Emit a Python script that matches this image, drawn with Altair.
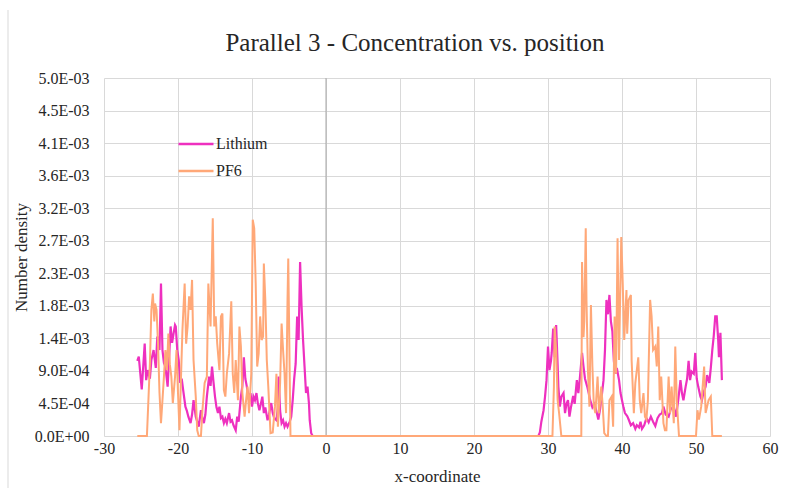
import altair as alt
import pandas as pd

# ---- data (number density in units of 1e-4) ----
lithium_x = [
    -25.5, -25.3, -25.1, -24.9, -24.7, -24.5, -24.3, -24.1, -23.8, -23.6, -23.3, -23.0, -22.8, -22.5,
    -22.3, -22.1, -21.9, -21.7, -21.4, -21.2, -21.0, -20.8, -20.6, -20.4, -20.3, -20.1, -19.9, -19.7,
    -19.5, -19.3, -19.0, -18.8, -18.6, -18.3, -18.1, -17.9, -17.6, -17.4, -17.2, -16.9, -16.7, -16.5,
    -16.3, -16.1, -15.8, -15.6, -15.4, -15.2, -15.0, -14.8, -14.6, -14.4, -14.2, -14.0, -13.8, -13.6,
    -13.4, -13.1, -12.9, -12.7, -12.5, -12.2, -12.0, -11.8, -11.5, -11.3, -11.1, -10.9, -10.7, -10.4,
    -10.2, -10.0, -9.8, -9.6, -9.4, -9.2, -9.0, -8.8, -8.6, -8.4, -8.2, -7.9, -7.7, -7.4, -7.2, -7.0,
    -6.7, -6.5, -6.4, -6.2, -6.0, -5.8, -5.6, -5.4, -5.2, -4.9, -4.7, -4.5, -4.3, -4.1, -3.9, -3.7,
    -3.5, -3.3, -3.1, -2.9, -2.7, -2.5, -2.3, -2.2, -2.0, -1.8,
    28.7, 28.9, 29.1, 29.4, 29.6, 29.8, 30.0, 30.2, 30.4, 30.5, 30.7, 30.9, 31.1, 31.3, 31.4, 31.6,
    31.8, 32.1, 32.3, 32.5, 32.7, 32.9, 33.1, 33.4, 33.6, 33.9, 34.1, 34.3, 34.6, 34.8, 35.0, 35.3,
    35.5, 35.7, 36.0, 36.3, 36.6, 36.8, 37.0, 37.2, 37.5, 37.7, 37.9, 38.1, 38.3, 38.5, 38.7, 38.9,
    39.1, 39.3, 39.6, 39.8, 40.0, 40.2, 40.4, 40.7, 40.9, 41.2, 41.5, 41.8, 42.0, 42.3, 42.5, 42.7,
    43.0, 43.3, 43.6, 43.9, 44.2, 44.5, 44.8, 45.1, 45.4, 45.6, 45.9, 46.3, 46.6, 47.0, 47.3, 47.6,
    47.9, 48.1, 48.3, 48.6, 48.8, 49.0, 49.2, 49.4, 49.7, 49.9, 50.1, 50.3, 50.6, 50.8, 51.0, 51.3,
    51.5, 51.8, 52.0, 52.2, 52.4, 52.6, 52.8, 53.0, 53.1, 53.3, 53.5,
]
lithium_y = [
    10.5, 11.1, 8.8, 6.5, 9.7, 12.9, 7.8, 9.2, 8.0, 10.6, 12.0, 9.5, 13.9, 12.0,
    21.3, 12.0, 10.2, 9.7, 6.9, 11.0, 15.3, 13.0, 14.3, 15.5, 15.3, 12.0, 10.6, 7.4,
    8.0, 6.4, 4.1, 3.5, 2.7, 1.8, 3.0, 5.0, 2.7, 2.0, 1.3, 3.6, 2.5, 1.8,
    3.0, 5.5, 8.3, 7.0, 9.7, 7.5, 5.5, 4.0, 3.2, 4.1, 2.5, 2.7, 1.8, 2.4,
    1.8, 3.2, 2.0, 2.2, 1.5, 0.8, 2.7, 2.0, 5.5, 7.0, 11.0, 8.0, 6.9, 5.0,
    6.0, 4.1, 5.5, 5.0, 6.0, 4.5, 3.6, 4.5, 5.5, 3.2, 4.0, 2.2, 3.0, 4.6, 3.2, 2.5,
    2.2, 4.0, 8.3, 3.5, 1.8, 2.2, 1.3, 1.8, 1.3, 2.0, 2.7, 5.0, 8.0, 10.1, 16.7, 13.4,
    24.3, 18.0, 13.4, 9.7, 6.0, 6.9, 4.5, 2.2, 0.4, 0.0,
    0.0, 0.5, 2.0, 3.6, 5.5, 7.8, 12.5, 9.2, 10.5, 11.6, 15.0, 11.0, 15.5, 10.0, 6.9, 4.1,
    5.5, 6.0, 3.2, 4.5, 5.0, 2.7, 4.0, 5.6, 4.5, 7.8, 6.0, 8.0, 11.6, 9.7, 8.0, 6.9,
    6.0, 5.0, 4.0, 4.5, 3.2, 2.3, 3.5, 5.0, 7.8, 12.0, 19.0, 17.0, 19.7, 16.0, 14.6, 10.5,
    8.7, 9.5, 7.8, 6.0, 5.0, 4.0, 3.2, 2.8, 2.3, 1.5, 1.8, 1.0, 1.5, 1.2, 2.0, 1.0,
    1.5, 2.5, 1.9, 2.7, 2.0, 1.4, 2.5, 3.0, 3.2, 4.1, 3.0, 2.7, 3.8, 4.1, 2.7, 5.0,
    7.8, 6.0, 5.0, 6.9, 8.0, 10.5, 7.8, 9.0, 8.7, 11.6, 8.0, 6.9, 5.5, 5.0, 6.0, 6.9,
    8.5, 7.4, 9.5, 12.0, 14.0, 16.7, 16.7, 13.4, 11.0, 14.4, 7.8,
]

pf6_x = [
    -25.5, -24.2, -24.0, -23.8, -23.6, -23.4, -23.2, -23.1, -22.9, -22.7, -22.5, -22.3, -22.1, -21.9,
    -21.7, -21.5, -21.3, -21.1, -20.9, -20.7, -20.4, -20.2, -20.0, -19.8, -19.6, -19.4, -19.1, -18.9,
    -18.7, -18.5, -18.3, -18.1, -17.9, -17.6, -17.4, -17.2, -16.9, -16.7, -16.4, -16.1, -15.9, -15.6,
    -15.3, -15.1, -14.9, -14.7, -14.4, -14.2, -14.0, -13.8, -13.6, -13.4, -13.1, -12.8, -12.6, -12.4,
    -12.2, -11.9, -11.7, -11.5, -11.3, -11.0, -10.8, -10.6, -10.4, -10.1, -9.9, -9.7, -9.5, -9.3,
    -9.1, -8.9, -8.7, -8.5, -8.4, -8.2, -8.0, -7.8, -7.5, -7.2, -6.9, -6.7, -6.5, -6.2, -6.0, -5.8,
    -5.6, -5.4, -5.2, -5.1, -5.0, -4.8,
    30.6, 30.8, 30.9, 31.1, 31.3, 31.5, 31.8, 34.5, 34.6, 34.8, 34.9, 35.1, 35.2, 35.4, 35.6, 35.8,
    36.0, 36.2, 36.4, 36.7, 36.9, 37.2, 37.4, 37.6, 37.9, 38.1, 38.3, 38.6, 38.8, 39.0, 39.2, 39.4,
    39.6, 39.9, 40.1, 40.3, 40.6, 40.7, 40.9, 41.2, 41.3, 41.6, 41.8, 42.2, 42.4, 42.6, 42.9, 43.1,
    43.3, 43.5, 43.8, 44.0, 44.2, 44.5, 44.7, 44.9, 45.1, 45.3, 45.6, 45.8, 46.0, 46.3, 46.5, 46.7,
    47.0, 47.2, 47.4, 47.7, 50.0, 50.2, 50.4, 50.7, 51.1, 51.3, 51.5, 51.7, 52.0, 52.2, 53.5,
]
pf6_y = [
    0.0, 0.0, 5.0, 10.1, 17.6, 19.9, 16.0, 18.5, 17.6, 12.9, 6.0, 1.8, 5.0, 8.3,
    12.0, 9.2, 14.3, 10.0, 8.3, 4.6, 8.3, 12.0, 6.0, 0.8, 8.0, 14.8, 21.3, 12.9,
    15.3, 19.5, 17.6, 21.8, 10.6, 5.5, 0.8, 0.0, 0.0, 3.6, 7.4, 8.3, 21.3, 15.3,
    30.4, 15.3, 16.7, 12.9, 9.2, 16.7, 17.1, 6.4, 5.5, 8.7, 11.5, 18.8, 8.7, 6.0,
    10.6, 5.0, 15.3, 12.5, 6.0, 2.7, 5.0, 6.9, 3.2, 8.7, 30.2, 29.0, 21.3, 9.7,
    11.5, 16.7, 13.4, 13.9, 24.1, 19.0, 10.6, 6.9, 0.4, 0.5, 4.1, 8.7, 1.3, 7.4, 15.7, 12.0,
    8.7, 3.2, 19.0, 24.8, 16.7, 0.0,
    0.0, 6.9, 15.3, 12.0, 5.0, 3.2, 0.0, 0.0, 24.3, 13.8, 16.0, 29.0, 19.0, 9.0, 4.1, 18.3,
    9.7, 4.1, 3.2, 8.3, 3.2, 6.9, 4.1, 0.4, 0.0, 0.0, 5.0, 5.5, 1.3, 16.7, 8.7, 27.6,
    10.6, 27.8, 21.3, 13.4, 20.4, 14.3, 19.0, 19.7, 10.6, 3.2, 7.4, 11.0, 5.0, 3.2, 6.0, 2.7,
    2.3, 5.0, 19.0, 16.7, 12.0, 12.5, 9.7, 15.3, 5.0, 8.3, 1.8, 0.8, 0.8, 8.3, 3.2, 6.9,
    1.8, 12.5, 5.0, 0.0, 0.0, 3.6, 2.3, 4.1, 9.7, 3.2, 4.1, 5.0, 5.5, 0.0, 0.0,
]

series_names = ["Lithium", "PF6"]
series_colors = ["#EE30BF", "#FFA878"]
x_ticks = [-30, -20, -10, 0, 10, 20, 30, 40, 50, 60]
y_tick_labels = ["0.0E+00", "4.5E-04", "9.0E-04", "1.4E-03", "1.8E-03", "2.3E-03",
                 "2.7E-03", "3.2E-03", "3.6E-03", "4.1E-03", "4.5E-03", "5.0E-03"]
y_max = 5.0e-3
y_ticks = [k * y_max / 11 for k in range(12)]

li_df = pd.DataFrame({"x": lithium_x, "y": [v * 1e-4 for v in lithium_y], "series": "Lithium"})
pf_df = pd.DataFrame({"x": pf6_x, "y": [v * 1e-4 for v in pf6_y], "series": "PF6"})
zero_df = pd.DataFrame({"x": [0]})

FONT = "Liberation Serif"
TXT = "#262626"

label_expr = "[" + ",".join("'%s'" % s for s in y_tick_labels) + "][round(datum.value * %d)]" % round(11 / y_max)

x_enc = alt.X("x:Q", scale=alt.Scale(domain=[-30, 60], nice=False),
              axis=alt.Axis(values=x_ticks, title="x-coordinate", grid=True, domain=False,
                            ticks=False, labelPadding=4, titlePadding=12, labelFlush=False,
                            labelExpr="'' + datum.value"))
y_enc = alt.Y("y:Q", scale=alt.Scale(domain=[0, y_max], nice=False, zero=True),
              axis=alt.Axis(values=y_ticks, labelExpr=label_expr, title="Number density",
                            grid=True, domain=False, ticks=False, labelPadding=15, titlePadding=4))
color_enc = alt.Color("series:N",
                      scale=alt.Scale(domain=series_names, range=series_colors),
                      legend=alt.Legend(orient="none", legendX=73, legendY=47, title=None,
                                        symbolType="stroke", symbolSize=1225, symbolStrokeWidth=2.5,
                                        labelFont=FONT, labelFontSize=16, labelColor=TXT,
                                        labelOffset=1, padding=0, rowPadding=-6))

zero_rule = alt.Chart(zero_df).mark_rule(color="#a6a6a6", strokeWidth=1).encode(x=alt.X("x:Q"))
li_line = alt.Chart(li_df).mark_line(strokeWidth=2.2).encode(x=x_enc, y=y_enc, color=color_enc)
pf_line = alt.Chart(pf_df).mark_line(strokeWidth=2.0).encode(x=x_enc, y=y_enc, color=color_enc)
border = alt.Chart(zero_df).mark_rule(color="#d9d9d9", strokeWidth=1).encode(
    x=alt.value(-96), y=alt.value(-68), y2=alt.value(410))

chart = alt.layer(border, zero_rule, li_line, pf_line).properties(
    width=666, height=358,
    autosize=alt.AutoSizeParams(type="none"),
    padding={"left": 104, "top": 78, "right": 20, "bottom": 52},
    background="white",
    title=alt.TitleParams("Parallel 3 - Concentration vs. position", font=FONT, fontSize=25,
                          fontWeight="normal", color=TXT, anchor="middle", dx=-22, offset=14, dy=60),
).configure_view(stroke=None).configure_axis(
    gridColor="#d9d9d9", gridWidth=1, labelFont=FONT, labelFontSize=16, labelColor=TXT,
    titleFont=FONT, titleFontSize=17, titleFontWeight="normal", titleColor=TXT,
)

chart.save("out.html", embed_options={"renderer": "svg", "actions": False})
